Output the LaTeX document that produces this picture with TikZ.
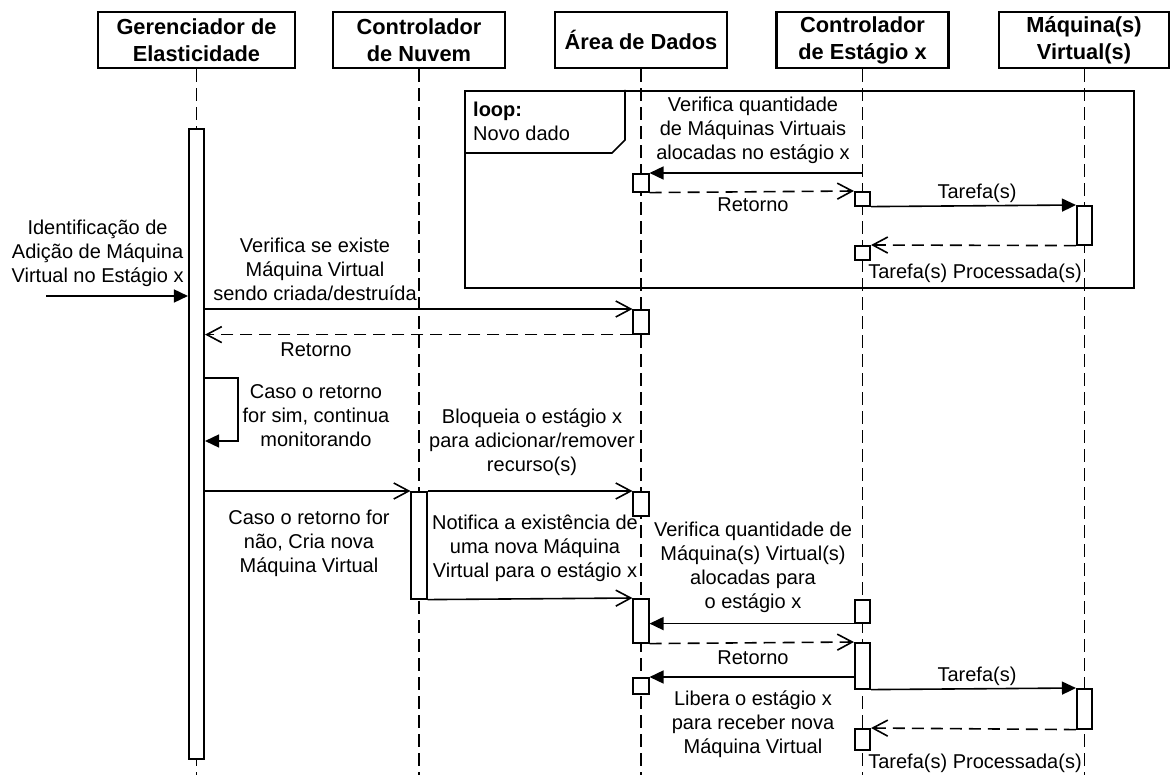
\documentclass[tikz,border=0pt]{standalone}
\usepackage{fontspec}
\setmainfont{Liberation Sans}
\usetikzlibrary{arrows.meta}
\begin{document}
\begin{tikzpicture}[x=1pt,y=-1pt,
  hdr/.style={draw, line width=2.7pt, font=\bfseries\fontsize{21.8}{27}\selectfont,
    align=center, minimum height=56pt, inner sep=0pt},
  lifeline/.style={line width=1.7pt, dash pattern=on 13pt off 6pt},
  actbox/.style={draw, fill=white, line width=1.6pt, minimum width=15.5pt, inner sep=0pt, anchor=north},
  sync/.style={line width=1.6pt, -{Triangle[length=14pt,width=13pt]}},
  call/.style={line width=1.6pt, -{Straight Barb[length=15pt,width=16pt,line width=1.6pt]}},
  reply/.style={call, dash pattern=on 12pt off 7pt},
  txt/.style={font=\fontsize{20}{24}\selectfont, align=center, inner sep=0pt},
  frame/.style={draw, line width=1.6pt, inner sep=0pt, anchor=north west},
]
\useasboundingbox (0,0) rectangle (1170,775);

% participants
\node[hdr, minimum width=197pt] (hG) at (196.5,40) {Gerenciador de\\Elasticidade};
\node[hdr, minimum width=172pt] (hN) at (419,40) {Controlador\\de Nuvem};
\node[hdr, minimum width=172pt] (hA) at (641,40) {Área de Dados};
\node[hdr, minimum width=172pt] (hE) at (862.5,40) {Controlador\\de Estágio x};
\node[hdr, minimum width=170pt] (hM) at (1084,40) {Máquina(s)\\Virtual(s)};

% lifeline ends
\coordinate (endG) at (196.5,775);
\coordinate (endN) at (419,775);
\coordinate (endA) at (641,775);
\coordinate (endE) at (862.5,775);
\coordinate (endM) at (1084.5,775);
\draw[lifeline] (hG.south) -- (endG);
\draw[lifeline] (hN.south) -- (endN);
\draw[lifeline] (hA.south) -- (endA);
\draw[lifeline] (hE.south) -- (endE);
\draw[lifeline] (hM.south -| endM) -- (endM);

% loop fragment
\node[frame, minimum width=669pt, minimum height=197pt] (loopf) at (464,90) {};
\draw[line width=1.6pt] (loopf.north west |- 0,153) -- (612,153) -- (625,140) -- (625,90);
\node[txt, font=\bfseries\fontsize{20}{24}\selectfont, anchor=base west] (looptag) at (473,117) {loop:};
\node[txt, anchor=base west] (loopcond) at (473,141) {Novo dado};

% activation boxes
\node[actbox, minimum height=630pt] (gBar) at (196.5,128) {};
\node[actbox, minimum height=107pt] (nBar) at (419,491) {};
\node[actbox, minimum height=18pt] (a1) at (641,173) {};
\node[actbox, minimum height=24pt] (a2) at (641,309) {};
\node[actbox, minimum height=24pt] (a3) at (641,491) {};
\node[actbox, minimum height=44pt] (a4) at (641,598) {};
\node[actbox, minimum height=16pt] (a5) at (641,677) {};
\node[actbox, minimum height=14pt] (e1) at (862.5,191) {};
\node[actbox, minimum height=14pt] (e2) at (862.5,245) {};
\node[actbox, minimum height=23pt] (e3) at (862.5,599) {};
\node[actbox, minimum height=46pt] (e4) at (862.5,642) {};
\node[actbox, minimum height=21pt] (e5) at (862.5,728) {};
\node[actbox, minimum height=39pt] (m1) at (1084.5,205) {};
\node[actbox, minimum height=40pt] (m2) at (1084.5,688) {};

% messages inside the loop
\draw[sync] (hE.south |- a1.north) -- (a1.north east);
\draw[reply] (a1.south east) -- (e1.north west);
\draw[sync] (e1.south east) -- (m1.north west);
\draw[reply] (m1.south west) -- (e2.north east);
\node[txt] (t1) at (753,130) {Verifica quantidade\\de Máquinas Virtuais\\alocadas no estágio x};
\node[txt] (t2) at (753,205) {Retorno};
\node[txt] (t3) at (977,193) {Tarefa(s)};
\node[txt] (t4) at (975,273) {Tarefa(s) Processada(s)};

% trigger and first check
\coordinate (src) at (46,296);
\draw[sync] (src) -- (gBar.west |- src);
\node[txt] (t5) at (97.6,253) {Identificação de\\Adição de Máquina\\Virtual no Estágio x};
\draw[call] (gBar.east |- a2.north) -- (a2.north west);
\node[txt] (t6) at (315,269) {Verifica se existe\\Máquina Virtual\\sendo criada/destruída};
\draw[reply] (a2.south west) -- (gBar.east |- a2.south);
\node[txt] (t7) at (316,350) {Retorno};

% self call
\coordinate (selfA) at (238,378);
\coordinate (selfB) at (238,441);
\draw[sync] (gBar.east |- selfA) -- (selfA) -- (selfB) -- (gBar.east |- selfB);
\node[txt] (t8) at (316,416) {Caso o retorno\\for sim, continua\\monitorando};

% resource lock and creation
\draw[call] (gBar.east |- nBar.north) -- (nBar.north west);
\draw[call] (nBar.north east) -- (a3.north west);
\node[txt] (t9) at (532,442) {Bloqueia o estágio x\\para adicionar/remover\\recurso(s)};
\node[txt] (t10) at (309,543) {Caso o retorno for\\não, Cria nova\\Máquina Virtual};
\draw[call] (nBar.south east) -- (a4.north west);
\node[txt] (t11) at (535,548) {Notifica a existência de\\uma nova Máquina\\Virtual para o estágio x};

% stage controller update
\draw[sync] (e3.south west) -- (a4.east |- e3.south);
\node[txt] (t12) at (753,567) {Verifica quantidade de\\Máquina(s) Virtual(s)\\alocadas para\\o estágio x};
\draw[reply] (a4.south east) -- (e4.north west);
\node[txt] (t13) at (753,658) {Retorno};
\draw[sync] (e4.west |- a5.north) -- (a5.north east);
\node[txt] (t14) at (753,724) {Libera o estágio x\\para receber nova\\Máquina Virtual};
\draw[sync] (e4.south east) -- (m2.north west);
\node[txt] (t15) at (977,676) {Tarefa(s)};
\draw[reply] (m2.south west) -- (e5.north east);
\node[txt] (t16) at (975,763) {Tarefa(s) Processada(s)};
\end{tikzpicture}
\end{document}
